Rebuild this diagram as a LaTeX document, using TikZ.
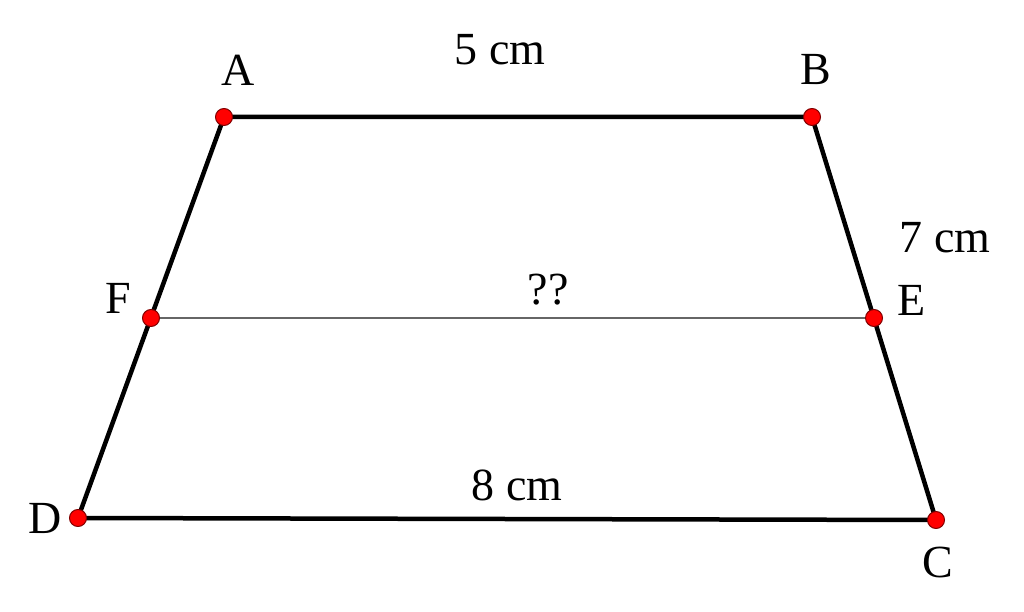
\documentclass[tikz,border=0pt]{standalone}
\usepackage{fontspec}
\setmainfont{Liberation Serif}
\begin{document}
\begin{tikzpicture}[x=1pt, y=-1pt, font=\fontsize{46}{54}\selectfont, line join=round, line cap=round]
\useasboundingbox (0,0) rectangle (1024,612);
\coordinate (A) at (224,117);
\coordinate (B) at (812,117);
\coordinate (C) at (936,520);
\coordinate (D) at (78,518);
\coordinate (E) at (874,318);
\coordinate (F) at (151,318);
\draw[line width=4.5pt] (A)--(B)--(C)--(D)--cycle;
\draw[line width=2pt, color=gray!80!black] (F)--(E);
\foreach\p/\x/\y in{A/238/70,B/816/70,C/938/562,D/45/518,E/912/300,F/118/298}
{\fill[red, draw=red!50!black, line width=1pt] (\p) circle(8.5pt);
\node (lbl\p) at (\x,\y) {\p};}
\node (ab) at (500,50) {5 cm};
\node (bc) at (945,238) {7 cm};
\node (fe) at (548,290) {??};
\node (dc) at (517,485) {8 cm};
\end{tikzpicture}
\end{document}
